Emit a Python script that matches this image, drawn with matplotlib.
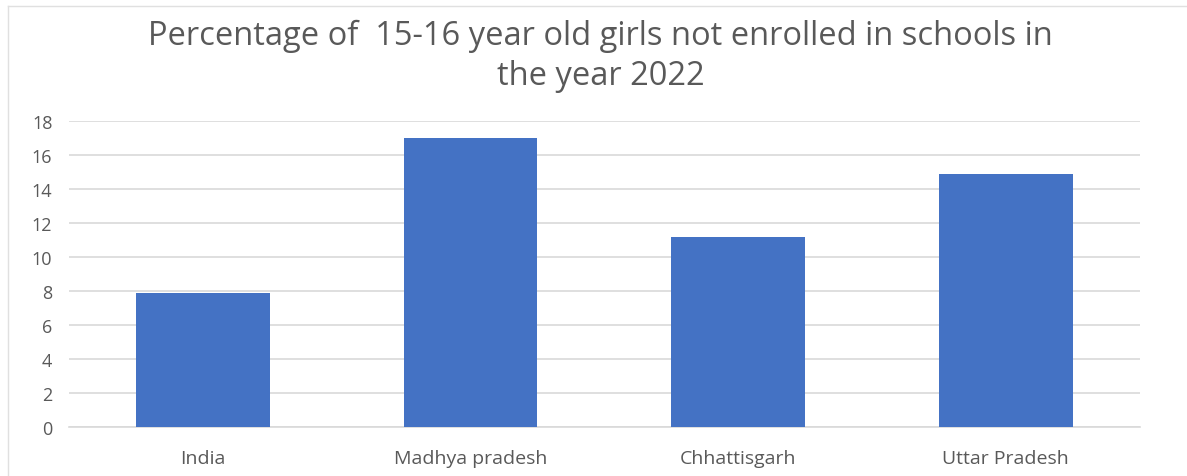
import matplotlib
matplotlib.use("Agg")
import matplotlib.pyplot as plt
from matplotlib.lines import Line2D

plt.rcParams['font.family'] = ['Open Sans', 'DejaVu Sans']

states = ['India', 'Madhya pradesh', 'Chhattisgarh', 'Uttar Pradesh']
not_enrolled = [7.9, 17.0, 11.2, 14.9]
y_ticks = [0, 2, 4, 6, 8, 10, 12, 14, 16, 18]

bar_color = '#4472C4'
text_color = '#595959'
grid_color = '#D9D9D9'

fig = plt.figure(figsize=(11.87, 4.77), dpi=100)
ax = fig.add_axes([0.0581, 0.1027, 0.9019, 0.6415])

ax.bar(range(len(states)), not_enrolled, width=0.5, color=bar_color, zorder=3)
ax.set_xlim(-0.5, len(states) - 0.5)
ax.set_ylim(0, 18)
ax.set_yticks(y_ticks)
ax.set_xticks(range(len(states)))
ax.set_xticklabels(states)
ax.tick_params(axis='both', length=0, colors=text_color)
ax.tick_params(axis='y', pad=12, labelsize=13)
ax.tick_params(axis='x', pad=16, labelsize=14)
ax.yaxis.grid(True, color=grid_color, linewidth=1.2, zorder=0)
for side in ['top', 'right', 'left']:
    ax.spines[side].set_visible(False)
ax.spines['bottom'].set_color(grid_color)
ax.spines['bottom'].set_linewidth(1.2)

fig.text(0.506, 0.882, 'Percentage of  15-16 year old girls not enrolled in schools in\nthe year 2022',
         ha='center', va='center', fontsize=23.5, color=text_color, linespacing=1.3)

# faint chart frame
fig.add_artist(Line2D([0.007, 0.007], [0.0, 0.985], transform=fig.transFigure, color='#E0E0E0', lw=1))
fig.add_artist(Line2D([0.007, 1.0], [0.985, 0.985], transform=fig.transFigure, color='#E0E0E0', lw=1))

fig.savefig('out.png', dpi=100)
